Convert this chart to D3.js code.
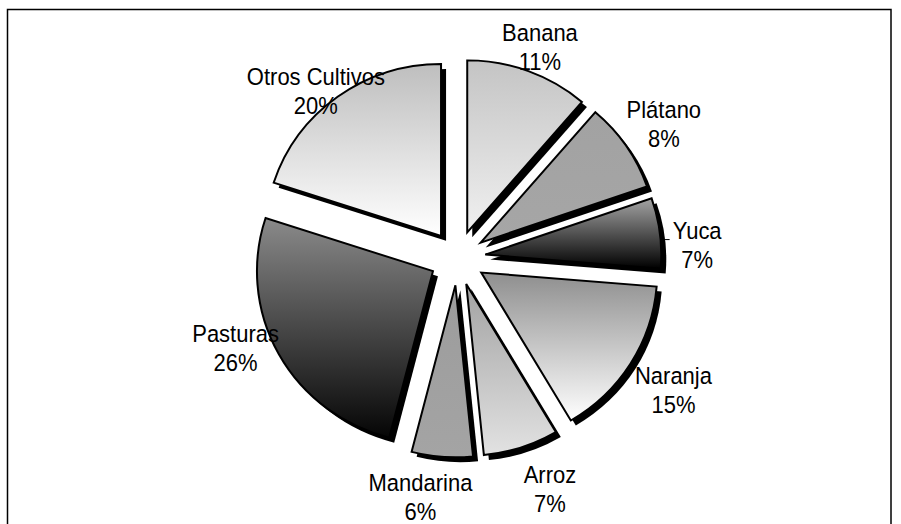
<!DOCTYPE html>
<html>
<head>
<meta charset="utf-8">
<script src="https://cdn.jsdelivr.net/npm/d3@7"></script>
<style>
  html, body { margin: 0; padding: 0; background: #fff; }
  svg { display: block; }
  text { font-family: "Liberation Sans", Arial, sans-serif; fill: #000; }
</style>
</head>
<body>
<svg id="chart" width="901" height="524"></svg>
<script>
// ---- data ----
const categories = ["Banana", "Plátano", "Yuca", "Naranja", "Arroz", "Mandarina", "Pasturas", "Otros Cultivos"];
const values = [11.3, 8.4, 6.6, 15.2, 6.9, 5.6, 26.0, 20.0];   // shares (%), labels shown rounded

// ---- styles (gradient top / bottom per slice) ----
const topColors    = ["#c4c4c4", "#a2a2a2", "#a4a4a4", "#8e8e8e", "#a2a2a2", "#9c9c9c", "#8a8a8a", "#bebebe"];
const bottomColors = ["#f0f0f0", "#a6a6a6", "#000000", "#ffffff", "#e2e2e2", "#a4a4a4", "#050505", "#ffffff"];

// ---- label layout (angle in degrees, distance from pie centre) ----
const labelAngles = [21.4, 57, 86.9, 121.4, 158.2, 188.8, 247.9, 319.7];
const labelDist   = [226, 246, 240, 253, 249, 242, 239.5, 219];

const W = 901, H = 524;
const cx = 457.5, cy = 258;
const radius = 176, yScale = 0.977, explode = 28;
const shadow = 5;

const svg = d3.select("#chart");

// border (chart area, bottom edge off-page)
svg.append("rect")
  .attr("x", 7.5).attr("y", 9.5)
  .attr("width", 883.5).attr("height", 530)
  .attr("fill", "none").attr("stroke", "#000").attr("stroke-width", 1.5);

const defs = svg.append("defs");
categories.forEach((c, i) => {
  const g = defs.append("linearGradient")
    .attr("id", "grad" + i)
    .attr("x1", 0).attr("y1", 0).attr("x2", 0).attr("y2", 1);
  g.append("stop").attr("offset", "0%").attr("stop-color", topColors[i]);
  g.append("stop").attr("offset", "100%").attr("stop-color", bottomColors[i]);
});

const total = d3.sum(values);
const pie = d3.pie().sort(null).startAngle(0).endAngle(2 * Math.PI).value(d => d);
const arcs = pie(values);
const arc = d3.arc().innerRadius(0).outerRadius(radius);

const root = svg.append("g")
  .attr("transform", `translate(${cx},${cy}) scale(1,${yScale})`);

function offset(d) {
  const m = (d.startAngle + d.endAngle) / 2;
  return [Math.sin(m) * explode, -Math.cos(m) * explode];
}

// shadows first
root.selectAll("path.shadow")
  .data(arcs).enter().append("path")
  .attr("class", "shadow")
  .attr("d", arc)
  .attr("fill", "#000")
  .attr("transform", d => {
    const [ox, oy] = offset(d);
    return `translate(${ox + shadow},${oy + shadow / yScale})`;
  });

root.selectAll("path.slice")
  .data(arcs).enter().append("path")
  .attr("class", "slice")
  .attr("d", arc)
  .attr("fill", (d, i) => `url(#grad${i})`)
  .attr("stroke", "#000")
  .attr("stroke-width", 2)
  .attr("stroke-linejoin", "miter")
  .attr("transform", d => {
    const [ox, oy] = offset(d);
    return `translate(${ox},${oy})`;
  });

// small leader tick for Yuca
{
  const d = arcs[2];
  const [ox, oy] = offset(d);
  const a = 85 * Math.PI / 180;
  const x0 = cx + ox + Math.sin(a) * radius + 3;
  const y0 = cy + (oy - Math.cos(a) * radius) * yScale;
  svg.append("line")
    .attr("x1", x0).attr("y1", y0).attr("x2", x0 + 6).attr("y2", y0)
    .attr("stroke", "#000").attr("stroke-width", 1);
}

// labels
const fontSize = 22, textScaleY = 1.08, lineGap = 29;
categories.forEach((c, i) => {
  const a = labelAngles[i] * Math.PI / 180;
  const lx = cx + Math.sin(a) * labelDist[i];
  const ly = cy - Math.cos(a) * labelDist[i];
  const pct = Math.round(values[i] / total * 100) + "%";
  [c, pct].forEach((t, k) => {
    const yc = ly + (k === 0 ? -lineGap / 2 : lineGap / 2);
    svg.append("text")
      .attr("transform", `translate(${lx},${yc}) scale(1,${textScaleY})`)
      .attr("text-anchor", "middle")
      .attr("y", 7.6)
      .attr("font-size", fontSize)
      .text(t);
  });
});
</script>
</body>
</html>
